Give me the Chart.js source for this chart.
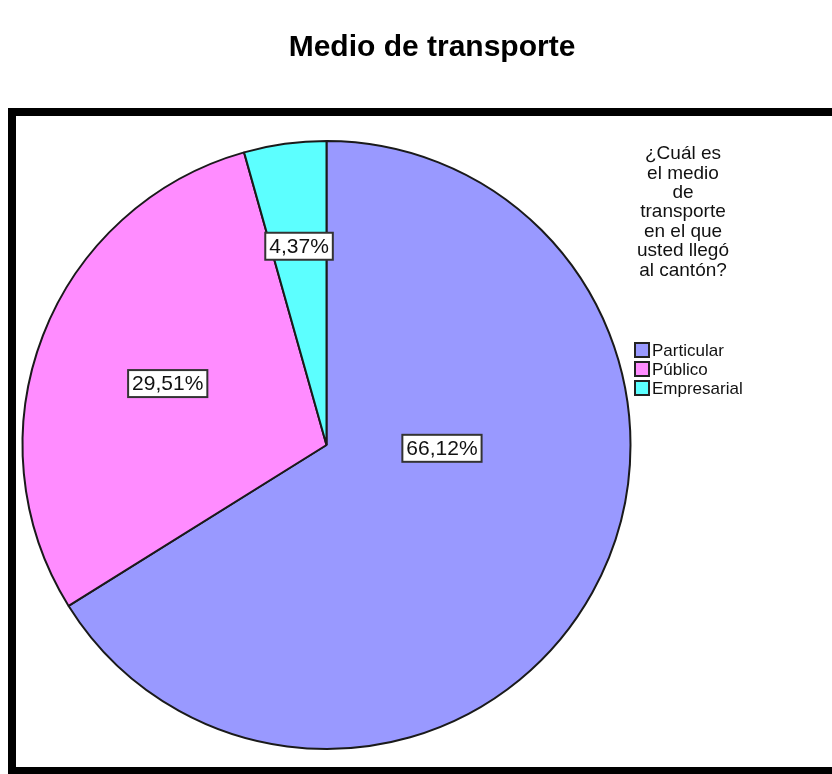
<!DOCTYPE html>
<html>
<head>
<meta charset="utf-8">
<script src="https://cdn.jsdelivr.net/npm/chart.js@4.4.0/dist/chart.umd.min.js"></script>
<style>
  html, body { margin: 0; padding: 0; background: #fff; }
  #wrap { width: 832px; height: 774px; }
</style>
</head>
<body>
<div id="wrap"><canvas id="chart" width="832" height="774"></canvas></div>
<script>
const chartTitle = "Medio de transporte";
const legendTitle = ["¿Cuál es", "el medio", "de", "transporte", "en el que", "usted llegó", "al cantón?"];
const categories = ["Particular", "Público", "Empresarial"];
const percentages = [66.12, 29.51, 4.37];
const sliceColors = ["#9999ff", "#ff8cff", "#5cffff"];
// where each % label sits in its slice (share of the slice angle, share of the radius)
const labelAngleShare = [0.385, 0.5, 0.5];
const labelRadiusShare = [0.38, 0.56, 0.66];

const FONT = "'Liberation Sans', Arial, sans-serif";

const fmtPct = (v) => v.toFixed(2).replace(".", ",") + "%";

const framePlugin = {
  id: "frame",
  beforeDraw(chart) {
    const ctx = chart.ctx;
    ctx.save();
    ctx.fillStyle = "#fff";
    ctx.fillRect(0, 0, chart.width, chart.height);
    // outer frame, right side runs off the picture
    ctx.strokeStyle = "#000";
    ctx.lineWidth = 8;
    ctx.strokeRect(12, 112, 860, 659);
    // title
    ctx.fillStyle = "#000";
    ctx.font = "bold 30px " + FONT;
    ctx.textAlign = "center";
    ctx.textBaseline = "middle";
    ctx.fillText(chartTitle, 432, 48);
    ctx.restore();
  },
  afterDraw(chart) {
    const ctx = chart.ctx;
    const ds = chart.data.datasets[0];
    ctx.save();
    // legend title
    ctx.fillStyle = "#111";
    ctx.font = "19px " + FONT;
    ctx.textAlign = "center";
    ctx.textBaseline = "middle";
    legendTitle.forEach((line, i) => {
      ctx.fillText(line, 683, 154 + i * 19.4);
    });
    // legend items
    ctx.textAlign = "left";
    ctx.font = "17px " + FONT;
    chart.data.labels.forEach((lab, i) => {
      const y = 350 + i * 19;
      ctx.fillStyle = ds.backgroundColor[i];
      ctx.fillRect(635, y - 7, 14, 14);
      ctx.strokeStyle = "#222";
      ctx.lineWidth = 2;
      ctx.strokeRect(635, y - 7, 14, 14);
      ctx.fillStyle = "#111";
      ctx.fillText(lab, 652, y + 1);
    });
    // percentage boxes
    const meta = chart.getDatasetMeta(0);
    ctx.font = "21px " + FONT;
    ctx.textAlign = "center";
    meta.data.forEach((arc, i) => {
      const p = arc.getProps(["x", "y", "startAngle", "endAngle", "outerRadius"], true);
      const a = p.startAngle + (p.endAngle - p.startAngle) * labelAngleShare[i];
      const r = p.outerRadius * labelRadiusShare[i];
      const cx = p.x + Math.cos(a) * r;
      const cy = p.y + Math.sin(a) * r;
      const txt = fmtPct(ds.data[i]);
      const w = ctx.measureText(txt).width + 8;
      const h = 27;
      ctx.fillStyle = "#fff";
      ctx.fillRect(cx - w / 2, cy - h / 2, w, h);
      ctx.strokeStyle = "#333";
      ctx.lineWidth = 2;
      ctx.strokeRect(cx - w / 2, cy - h / 2, w, h);
      ctx.fillStyle = "#111";
      ctx.fillText(txt, cx, cy + 1);
    });
    ctx.restore();
  }
};

new Chart(document.getElementById("chart"), {
  type: "pie",
  data: {
    labels: categories,
    datasets: [{
      data: percentages,
      backgroundColor: sliceColors,
      borderColor: "#1a1a1a",
      borderWidth: 2
    }]
  },
  options: {
    responsive: false,
    animation: false,
    devicePixelRatio: 1,
    layout: { padding: { left: 21, top: 140, right: 200, bottom: 24 } },
    plugins: {
      legend: { display: false },
      tooltip: { enabled: false }
    }
  },
  plugins: [framePlugin]
});
</script>
</body>
</html>
